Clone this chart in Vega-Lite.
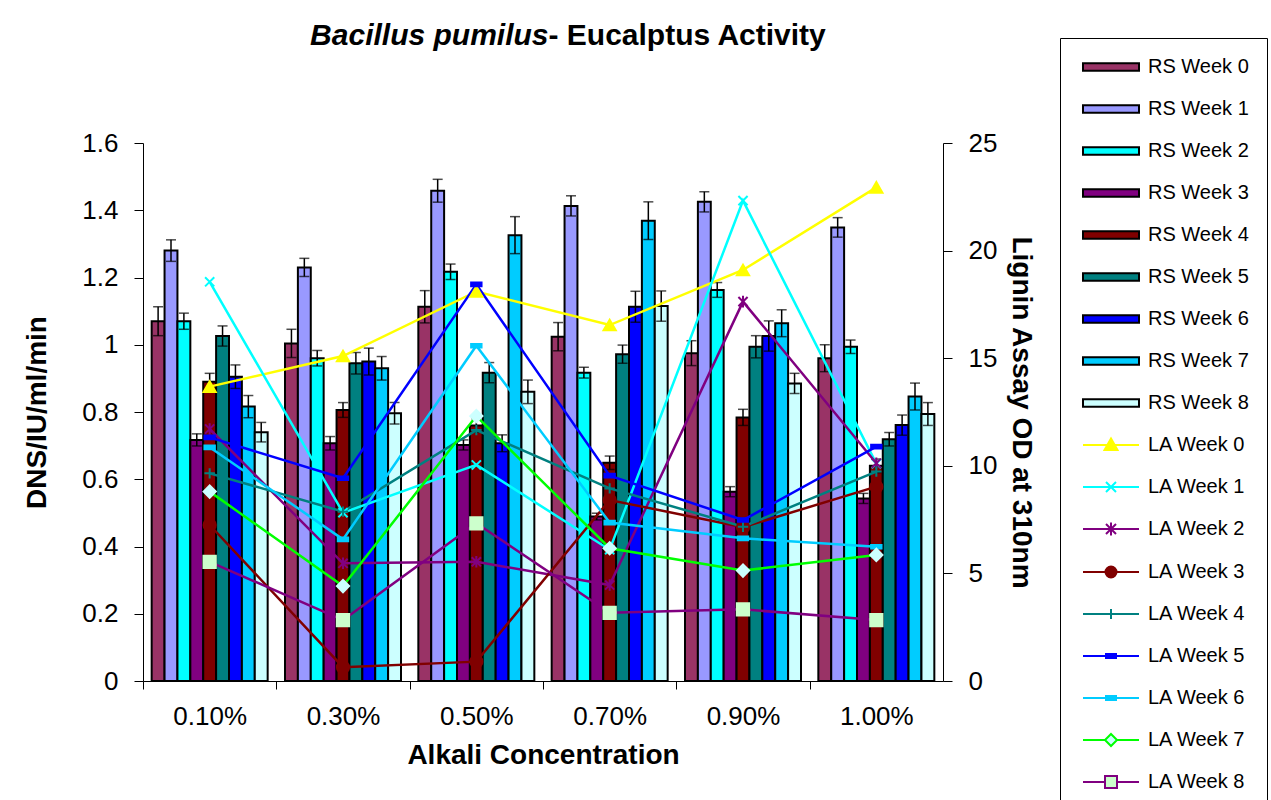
{
  "$schema": "https://vega.github.io/schema/vega-lite/v6.json",
  "width": 800,
  "height": 538,
  "autosize": {"type": "none"},
  "padding": {"left": 143, "top": 143, "right": 328, "bottom": 119},
  "background": "white",
  "config": {
    "view": {"stroke": null},
    "font": "Liberation Sans",
    "axis": {"labelFont": "Liberation Sans", "titleFont": "Liberation Sans", "labelColor": "black", "titleColor": "black", "domainColor": "black", "tickColor": "black", "grid": false},
    "legend": {
      "title": null, "orient": "none", "legendX": 917, "legendY": -105, "direction": "vertical",
      "strokeColor": "black", "fillColor": "white", "padding": 18,
      "symbolSize": 400, "symbolStrokeWidth": 2, "symbolOpacity": 1,
      "labelFont": "Liberation Sans", "labelFontSize": 20, "labelColor": "black",
      "labelOffset": 48, "labelLimit": 300, "rowPadding": 21
    }
  },
  "datasets": {
    "series": [
      {"series": "RS Week 0"}, {"series": "RS Week 1"}, {"series": "RS Week 2"}, {"series": "RS Week 3"}, {"series": "RS Week 4"}, {"series": "RS Week 5"}, {"series": "RS Week 6"}, {"series": "RS Week 7"}, {"series": "RS Week 8"},
      {"series": "LA Week 0"}, {"series": "LA Week 1"}, {"series": "LA Week 2"}, {"series": "LA Week 3"}, {"series": "LA Week 4"}, {"series": "LA Week 5"}, {"series": "LA Week 6"}, {"series": "LA Week 7"}, {"series": "LA Week 8"}
    ],
    "rs": [
      {"conc": "0.10%", "series": "RS Week 0", "value": 1.07, "low": 1.027, "high": 1.113},
      {"conc": "0.10%", "series": "RS Week 1", "value": 1.28, "low": 1.248, "high": 1.312},
      {"conc": "0.10%", "series": "RS Week 2", "value": 1.07, "low": 1.046, "high": 1.094},
      {"conc": "0.10%", "series": "RS Week 3", "value": 0.717, "low": 0.699, "high": 0.735},
      {"conc": "0.10%", "series": "RS Week 4", "value": 0.89, "low": 0.865, "high": 0.915},
      {"conc": "0.10%", "series": "RS Week 5", "value": 1.026, "low": 0.996, "high": 1.056},
      {"conc": "0.10%", "series": "RS Week 6", "value": 0.905, "low": 0.87, "high": 0.94},
      {"conc": "0.10%", "series": "RS Week 7", "value": 0.816, "low": 0.783, "high": 0.849},
      {"conc": "0.10%", "series": "RS Week 8", "value": 0.74, "low": 0.711, "high": 0.769},
      {"conc": "0.30%", "series": "RS Week 0", "value": 1.004, "low": 0.962, "high": 1.046},
      {"conc": "0.30%", "series": "RS Week 1", "value": 1.23, "low": 1.203, "high": 1.257},
      {"conc": "0.30%", "series": "RS Week 2", "value": 0.96, "low": 0.937, "high": 0.983},
      {"conc": "0.30%", "series": "RS Week 3", "value": 0.707, "low": 0.687, "high": 0.727},
      {"conc": "0.30%", "series": "RS Week 4", "value": 0.806, "low": 0.784, "high": 0.828},
      {"conc": "0.30%", "series": "RS Week 5", "value": 0.945, "low": 0.913, "high": 0.977},
      {"conc": "0.30%", "series": "RS Week 6", "value": 0.95, "low": 0.91, "high": 0.99},
      {"conc": "0.30%", "series": "RS Week 7", "value": 0.93, "low": 0.895, "high": 0.965},
      {"conc": "0.30%", "series": "RS Week 8", "value": 0.796, "low": 0.764, "high": 0.828},
      {"conc": "0.50%", "series": "RS Week 0", "value": 1.113, "low": 1.065, "high": 1.161},
      {"conc": "0.50%", "series": "RS Week 1", "value": 1.458, "low": 1.424, "high": 1.492},
      {"conc": "0.50%", "series": "RS Week 2", "value": 1.217, "low": 1.194, "high": 1.24},
      {"conc": "0.50%", "series": "RS Week 3", "value": 0.702, "low": 0.687, "high": 0.717},
      {"conc": "0.50%", "series": "RS Week 4", "value": 0.76, "low": 0.74, "high": 0.78},
      {"conc": "0.50%", "series": "RS Week 5", "value": 0.917, "low": 0.887, "high": 0.947},
      {"conc": "0.50%", "series": "RS Week 6", "value": 0.707, "low": 0.682, "high": 0.732},
      {"conc": "0.50%", "series": "RS Week 7", "value": 1.326, "low": 1.271, "high": 1.381},
      {"conc": "0.50%", "series": "RS Week 8", "value": 0.86, "low": 0.825, "high": 0.895},
      {"conc": "0.70%", "series": "RS Week 0", "value": 1.024, "low": 0.982, "high": 1.066},
      {"conc": "0.70%", "series": "RS Week 1", "value": 1.413, "low": 1.383, "high": 1.443},
      {"conc": "0.70%", "series": "RS Week 2", "value": 0.917, "low": 0.901, "high": 0.933},
      {"conc": "0.70%", "series": "RS Week 3", "value": 0.489, "low": 0.479, "high": 0.499},
      {"conc": "0.70%", "series": "RS Week 4", "value": 0.649, "low": 0.629, "high": 0.669},
      {"conc": "0.70%", "series": "RS Week 5", "value": 0.972, "low": 0.945, "high": 0.999},
      {"conc": "0.70%", "series": "RS Week 6", "value": 1.113, "low": 1.067, "high": 1.159},
      {"conc": "0.70%", "series": "RS Week 7", "value": 1.369, "low": 1.313, "high": 1.425},
      {"conc": "0.70%", "series": "RS Week 8", "value": 1.115, "low": 1.07, "high": 1.16},
      {"conc": "0.90%", "series": "RS Week 0", "value": 0.975, "low": 0.938, "high": 1.012},
      {"conc": "0.90%", "series": "RS Week 1", "value": 1.425, "low": 1.395, "high": 1.455},
      {"conc": "0.90%", "series": "RS Week 2", "value": 1.163, "low": 1.141, "high": 1.185},
      {"conc": "0.90%", "series": "RS Week 3", "value": 0.563, "low": 0.548, "high": 0.578},
      {"conc": "0.90%", "series": "RS Week 4", "value": 0.784, "low": 0.76, "high": 0.808},
      {"conc": "0.90%", "series": "RS Week 5", "value": 0.994, "low": 0.961, "high": 1.027},
      {"conc": "0.90%", "series": "RS Week 6", "value": 1.026, "low": 0.981, "high": 1.071},
      {"conc": "0.90%", "series": "RS Week 7", "value": 1.064, "low": 1.024, "high": 1.104},
      {"conc": "0.90%", "series": "RS Week 8", "value": 0.885, "low": 0.855, "high": 0.915},
      {"conc": "1.00%", "series": "RS Week 0", "value": 0.96, "low": 0.92, "high": 1.0},
      {"conc": "1.00%", "series": "RS Week 1", "value": 1.349, "low": 1.32, "high": 1.378},
      {"conc": "1.00%", "series": "RS Week 2", "value": 0.994, "low": 0.974, "high": 1.014},
      {"conc": "1.00%", "series": "RS Week 3", "value": 0.543, "low": 0.528, "high": 0.558},
      {"conc": "1.00%", "series": "RS Week 4", "value": 0.64, "low": 0.62, "high": 0.66},
      {"conc": "1.00%", "series": "RS Week 5", "value": 0.719, "low": 0.699, "high": 0.739},
      {"conc": "1.00%", "series": "RS Week 6", "value": 0.761, "low": 0.731, "high": 0.791},
      {"conc": "1.00%", "series": "RS Week 7", "value": 0.846, "low": 0.806, "high": 0.886},
      {"conc": "1.00%", "series": "RS Week 8", "value": 0.794, "low": 0.76, "high": 0.828}
    ],
    "la": [
      {"conc": "0.10%", "series": "LA Week 0", "od": 13.68},
      {"conc": "0.10%", "series": "LA Week 1", "od": 18.55},
      {"conc": "0.10%", "series": "LA Week 2", "od": 11.71},
      {"conc": "0.10%", "series": "LA Week 3", "od": 7.25},
      {"conc": "0.10%", "series": "LA Week 4", "od": 9.65},
      {"conc": "0.10%", "series": "LA Week 5", "od": 11.32},
      {"conc": "0.10%", "series": "LA Week 6", "od": 10.86},
      {"conc": "0.10%", "series": "LA Week 7", "od": 8.8},
      {"conc": "0.10%", "series": "LA Week 8", "od": 5.54},
      {"conc": "0.30%", "series": "LA Week 0", "od": 15.1},
      {"conc": "0.30%", "series": "LA Week 1", "od": 7.82},
      {"conc": "0.30%", "series": "LA Week 2", "od": 5.47},
      {"conc": "0.30%", "series": "LA Week 3", "od": 0.64},
      {"conc": "0.30%", "series": "LA Week 4", "od": 7.87},
      {"conc": "0.30%", "series": "LA Week 5", "od": 9.42},
      {"conc": "0.30%", "series": "LA Week 6", "od": 6.58},
      {"conc": "0.30%", "series": "LA Week 7", "od": 4.41},
      {"conc": "0.30%", "series": "LA Week 8", "od": 2.83},
      {"conc": "0.50%", "series": "LA Week 0", "od": 18.1},
      {"conc": "0.50%", "series": "LA Week 1", "od": 10.04},
      {"conc": "0.50%", "series": "LA Week 2", "od": 5.54},
      {"conc": "0.50%", "series": "LA Week 3", "od": 0.9},
      {"conc": "0.50%", "series": "LA Week 4", "od": 11.66},
      {"conc": "0.50%", "series": "LA Week 5", "od": 18.43},
      {"conc": "0.50%", "series": "LA Week 6", "od": 15.58},
      {"conc": "0.50%", "series": "LA Week 7", "od": 12.31},
      {"conc": "0.50%", "series": "LA Week 8", "od": 7.33},
      {"conc": "0.70%", "series": "LA Week 0", "od": 16.54},
      {"conc": "0.70%", "series": "LA Week 1", "od": 6.1},
      {"conc": "0.70%", "series": "LA Week 2", "od": 4.46},
      {"conc": "0.70%", "series": "LA Week 3", "od": 8.41},
      {"conc": "0.70%", "series": "LA Week 4", "od": 8.95},
      {"conc": "0.70%", "series": "LA Week 5", "od": 9.54},
      {"conc": "0.70%", "series": "LA Week 6", "od": 7.36},
      {"conc": "0.70%", "series": "LA Week 7", "od": 6.17},
      {"conc": "0.70%", "series": "LA Week 8", "od": 3.17},
      {"conc": "0.90%", "series": "LA Week 0", "od": 19.1},
      {"conc": "0.90%", "series": "LA Week 1", "od": 22.32},
      {"conc": "0.90%", "series": "LA Week 2", "od": 17.63},
      {"conc": "0.90%", "series": "LA Week 3", "od": 7.15},
      {"conc": "0.90%", "series": "LA Week 4", "od": 7.17},
      {"conc": "0.90%", "series": "LA Week 5", "od": 7.48},
      {"conc": "0.90%", "series": "LA Week 6", "od": 6.63},
      {"conc": "0.90%", "series": "LA Week 7", "od": 5.13},
      {"conc": "0.90%", "series": "LA Week 8", "od": 3.33},
      {"conc": "1.00%", "series": "LA Week 0", "od": 22.94},
      {"conc": "1.00%", "series": "LA Week 1", "od": 10.1},
      {"conc": "1.00%", "series": "LA Week 2", "od": 10.12},
      {"conc": "1.00%", "series": "LA Week 3", "od": 9.03},
      {"conc": "1.00%", "series": "LA Week 4", "od": 9.73},
      {"conc": "1.00%", "series": "LA Week 5", "od": 10.89},
      {"conc": "1.00%", "series": "LA Week 6", "od": 6.24},
      {"conc": "1.00%", "series": "LA Week 7", "od": 5.86},
      {"conc": "1.00%", "series": "LA Week 8", "od": 2.83}
    ]
  },
  "layer": [
    {
      "data": {"name": "rs"},
      "layer": [
        {
          "mark": {"type": "bar", "stroke": "black", "strokeWidth": 2},
          "encoding": {
            "x": {
              "field": "conc", "type": "nominal", "sort": null,
              "scale": {"paddingInner": 0.13, "paddingOuter": 0.065},
              "axis": {"title": "Alkali Concentration", "orient": "bottom", "labelAngle": 0, "bandPosition": 0, "tickOffset": -8.67, "labelOffset": 8.67, "tickSize": 8, "labelFontSize": 26, "labelPadding": 14, "titleFontSize": 28, "titleFontWeight": "bold", "titlePadding": 12}
            },
            "xOffset": {"field": "series", "type": "nominal", "sort": null, "scale": {"domain": ["RS Week 0", "RS Week 1", "RS Week 2", "RS Week 3", "RS Week 4", "RS Week 5", "RS Week 6", "RS Week 7", "RS Week 8"], "paddingInner": 0, "paddingOuter": 0}},
            "y": {
              "field": "value", "type": "quantitative", "title": "DNS/IU/ml/min",
              "scale": {"domain": [0, 1.6], "nice": false},
              "axis": {"orient": "left", "values": [0, 0.2, 0.4, 0.6, 0.8, 1, 1.2, 1.4, 1.6], "format": "~g", "tickSize": 9, "labelFontSize": 26, "labelPadding": 16, "labelFlush": false, "titleFontSize": 28, "titleFontWeight": "bold", "titlePadding": 30}
            },
            "color": {
              "field": "series", "type": "nominal", "legend": null,
              "scale": {
                "domain": ["RS Week 0", "RS Week 1", "RS Week 2", "RS Week 3", "RS Week 4", "RS Week 5", "RS Week 6", "RS Week 7", "RS Week 8", "LA Week 0", "LA Week 1", "LA Week 2", "LA Week 3", "LA Week 4", "LA Week 5", "LA Week 6", "LA Week 7", "LA Week 8"],
                "range": ["#993366", "#9999FF", "#00FFFF", "#800080", "#800000", "#008080", "#0000FF", "#00CCFF", "#CCFFFF", "#FFFF00", "#00FFFF", "#800080", "#800000", "#008080", "#0000FF", "#00CCFF", "#00FF00", "#800080"]
              }
            }
          }
        },
        {
          "mark": {"type": "rule", "color": "black", "strokeWidth": 1.5},
          "encoding": {
            "x": {"field": "conc", "type": "nominal", "sort": null},
            "xOffset": {"field": "series", "type": "nominal", "sort": null},
            "y": {"field": "low", "type": "quantitative", "title": "DNS/IU/ml/min"},
            "y2": {"field": "high"}
          }
        },
        {
          "mark": {"type": "tick", "color": "black", "thickness": 1.5, "size": 10, "orient": "horizontal"},
          "encoding": {
            "x": {"field": "conc", "type": "nominal", "sort": null},
            "xOffset": {"field": "series", "type": "nominal", "sort": null},
            "y": {"field": "high", "type": "quantitative", "title": "DNS/IU/ml/min"}
          }
        },
        {
          "mark": {"type": "tick", "color": "black", "thickness": 1.5, "size": 10, "orient": "horizontal"},
          "encoding": {
            "x": {"field": "conc", "type": "nominal", "sort": null},
            "xOffset": {"field": "series", "type": "nominal", "sort": null},
            "y": {"field": "low", "type": "quantitative", "title": "DNS/IU/ml/min"}
          }
        }
      ]
    },
    {
      "data": {"name": "la"},
      "layer": [
        {
          "mark": {"type": "line", "strokeWidth": 2.5},
          "encoding": {
            "x": {
              "field": "conc", "type": "nominal", "sort": null,
              "axis": {"orient": "top", "labels": false, "ticks": false, "domain": false, "title": "Bacillus pumilus", "titleFont": "Liberation Sans", "titleFontSize": 30, "titleFontWeight": "bold", "titleFontStyle": "italic", "titleColor": "black", "titleAlign": "right", "titleBaseline": "alphabetic", "titleX": 405, "titleY": -99}
            },
            "y": {
              "field": "od", "type": "quantitative", "title": "Lignin Assay OD at 310nm",
              "scale": {"domain": [0, 25], "nice": false},
              "axis": {"orient": "right", "values": [0, 5, 10, 15, 20, 25], "format": "~g", "tickSize": 9, "labelFontSize": 26, "labelPadding": 16, "labelFlush": false, "titleFontSize": 28, "titleFontWeight": "bold", "titlePadding": 10}
            },
            "color": {"field": "series", "type": "nominal", "legend": null}
          }
        },
        {
          "mark": {"type": "point", "size": 150, "strokeWidth": 2, "opacity": 1, "filled": false},
          "encoding": {
            "x": {
              "field": "conc", "type": "nominal", "sort": null,
              "axis": {"orient": "top", "labels": false, "ticks": false, "domain": false, "title": "- Eucalptus Activity", "titleFont": "Liberation Sans", "titleFontSize": 30, "titleFontWeight": "bold", "titleFontStyle": "normal", "titleColor": "black", "titleAlign": "left", "titleBaseline": "alphabetic", "titleX": 405, "titleY": -99}
            },
            "y": {"field": "od", "type": "quantitative", "title": "Lignin Assay OD at 310nm"},
            "shape": {
              "field": "series", "type": "nominal", "legend": null,
              "scale": {"domain": ["LA Week 0", "LA Week 1", "LA Week 2", "LA Week 3", "LA Week 4", "LA Week 5", "LA Week 6", "LA Week 7", "LA Week 8"],
                "range": ["triangle-up", "M-0.75,-0.75L0.75,0.75M-0.75,0.75L0.75,-0.75", "M-0.75,-0.75L0.75,0.75M-0.75,0.75L0.75,-0.75M0,-0.95L0,0.95", "circle", "M-0.85,0L0.85,0M0,-0.85L0,0.85", "M-0.85,-0.3H0.85V0.3H-0.85Z", "M-0.85,-0.3H0.85V0.3H-0.85Z", "diamond", "square"]}
            },
            "fill": {
              "field": "series", "type": "nominal", "legend": null,
              "scale": {"domain": ["LA Week 0", "LA Week 1", "LA Week 2", "LA Week 3", "LA Week 4", "LA Week 5", "LA Week 6", "LA Week 7", "LA Week 8"],
                "range": ["#FFFF00", "transparent", "transparent", "#800000", "transparent", "#0000FF", "#00CCFF", "#CCFFFF", "#CCFFCC"]}
            },
            "stroke": {
              "field": "series", "type": "nominal", "legend": null,
              "scale": {"domain": ["LA Week 0", "LA Week 1", "LA Week 2", "LA Week 3", "LA Week 4", "LA Week 5", "LA Week 6", "LA Week 7", "LA Week 8"],
                "range": ["#FFFF00", "#00FFFF", "#800080", "#800000", "#008080", "#0000FF", "#00CCFF", "#CCFFFF", "#CCFFCC"]}
            }
          }
        }
      ],
      "resolve": {"axis": {"x": "independent"}}
    },
    {
      "data": {"name": "series"},
      "mark": {"type": "point", "opacity": 0, "strokeWidth": 2},
      "encoding": {
        "shape": {
          "field": "series", "type": "nominal", "sort": null,
          "scale": {
            "domain": ["RS Week 0", "RS Week 1", "RS Week 2", "RS Week 3", "RS Week 4", "RS Week 5", "RS Week 6", "RS Week 7", "RS Week 8", "LA Week 0", "LA Week 1", "LA Week 2", "LA Week 3", "LA Week 4", "LA Week 5", "LA Week 6", "LA Week 7", "LA Week 8"],
            "range": [
              "M-0.6,-0.38H5V0.38H-0.6Z", "M-0.6,-0.38H5V0.38H-0.6Z", "M-0.6,-0.38H5V0.38H-0.6Z", "M-0.6,-0.38H5V0.38H-0.6Z", "M-0.6,-0.38H5V0.38H-0.6Z", "M-0.6,-0.38H5V0.38H-0.6Z", "M-0.6,-0.38H5V0.38H-0.6Z", "M-0.6,-0.38H5V0.38H-0.6Z", "M-0.6,-0.38H5V0.38H-0.6Z",
              "M-0.6,0H5M2.2,-0.65L2.85,0.5L1.55,0.5Z",
              "M-0.6,0H5M1.7,-0.5L2.7,0.5M1.7,0.5L2.7,-0.5",
              "M-0.6,0H5M1.7,-0.5L2.7,0.5M1.7,0.5L2.7,-0.5M2.2,-0.65L2.2,0.65",
              "M-0.6,0H1.65M2.75,0H5M1.65,0A0.55,0.55 0 1,0 2.75,0A0.55,0.55 0 1,0 1.65,0Z",
              "M-0.6,0H5M2.2,-0.5L2.2,0.5",
              "M-0.6,0H5M1.7,-0.2H2.7V0.2H1.7Z",
              "M-0.6,0H5M1.7,-0.2H2.7V0.2H1.7Z",
              "M-0.6,0H1.6M2.8,0H5M2.2,-0.6L2.8,0L2.2,0.6L1.6,0Z",
              "M-0.6,0H1.6M2.8,0H5M1.6,-0.6H2.8V0.6H1.6Z"
            ]
          },
          "legend": {"title": null}
        },
        "fill": {
          "field": "series", "type": "nominal", "sort": null,
          "scale": {
            "domain": ["RS Week 0", "RS Week 1", "RS Week 2", "RS Week 3", "RS Week 4", "RS Week 5", "RS Week 6", "RS Week 7", "RS Week 8", "LA Week 0", "LA Week 1", "LA Week 2", "LA Week 3", "LA Week 4", "LA Week 5", "LA Week 6", "LA Week 7", "LA Week 8"],
            "range": ["#993366", "#9999FF", "#00FFFF", "#800080", "#800000", "#008080", "#0000FF", "#00CCFF", "#CCFFFF", "#FFFF00", "transparent", "transparent", "#800000", "transparent", "#0000FF", "#00CCFF", "#CCFFFF", "#CCFFCC"]
          },
          "legend": {"title": null}
        },
        "stroke": {
          "field": "series", "type": "nominal", "sort": null,
          "scale": {
            "domain": ["RS Week 0", "RS Week 1", "RS Week 2", "RS Week 3", "RS Week 4", "RS Week 5", "RS Week 6", "RS Week 7", "RS Week 8", "LA Week 0", "LA Week 1", "LA Week 2", "LA Week 3", "LA Week 4", "LA Week 5", "LA Week 6", "LA Week 7", "LA Week 8"],
            "range": ["black", "black", "black", "black", "black", "black", "black", "black", "black", "#FFFF00", "#00FFFF", "#800080", "#800000", "#008080", "#0000FF", "#00CCFF", "#00FF00", "#800080"]
          },
          "legend": {"title": null}
        }
      }
    }
  ],
  "resolve": {"scale": {"y": "independent", "shape": "independent", "fill": "independent", "stroke": "independent"}, "axis": {"x": "independent"}}
}
